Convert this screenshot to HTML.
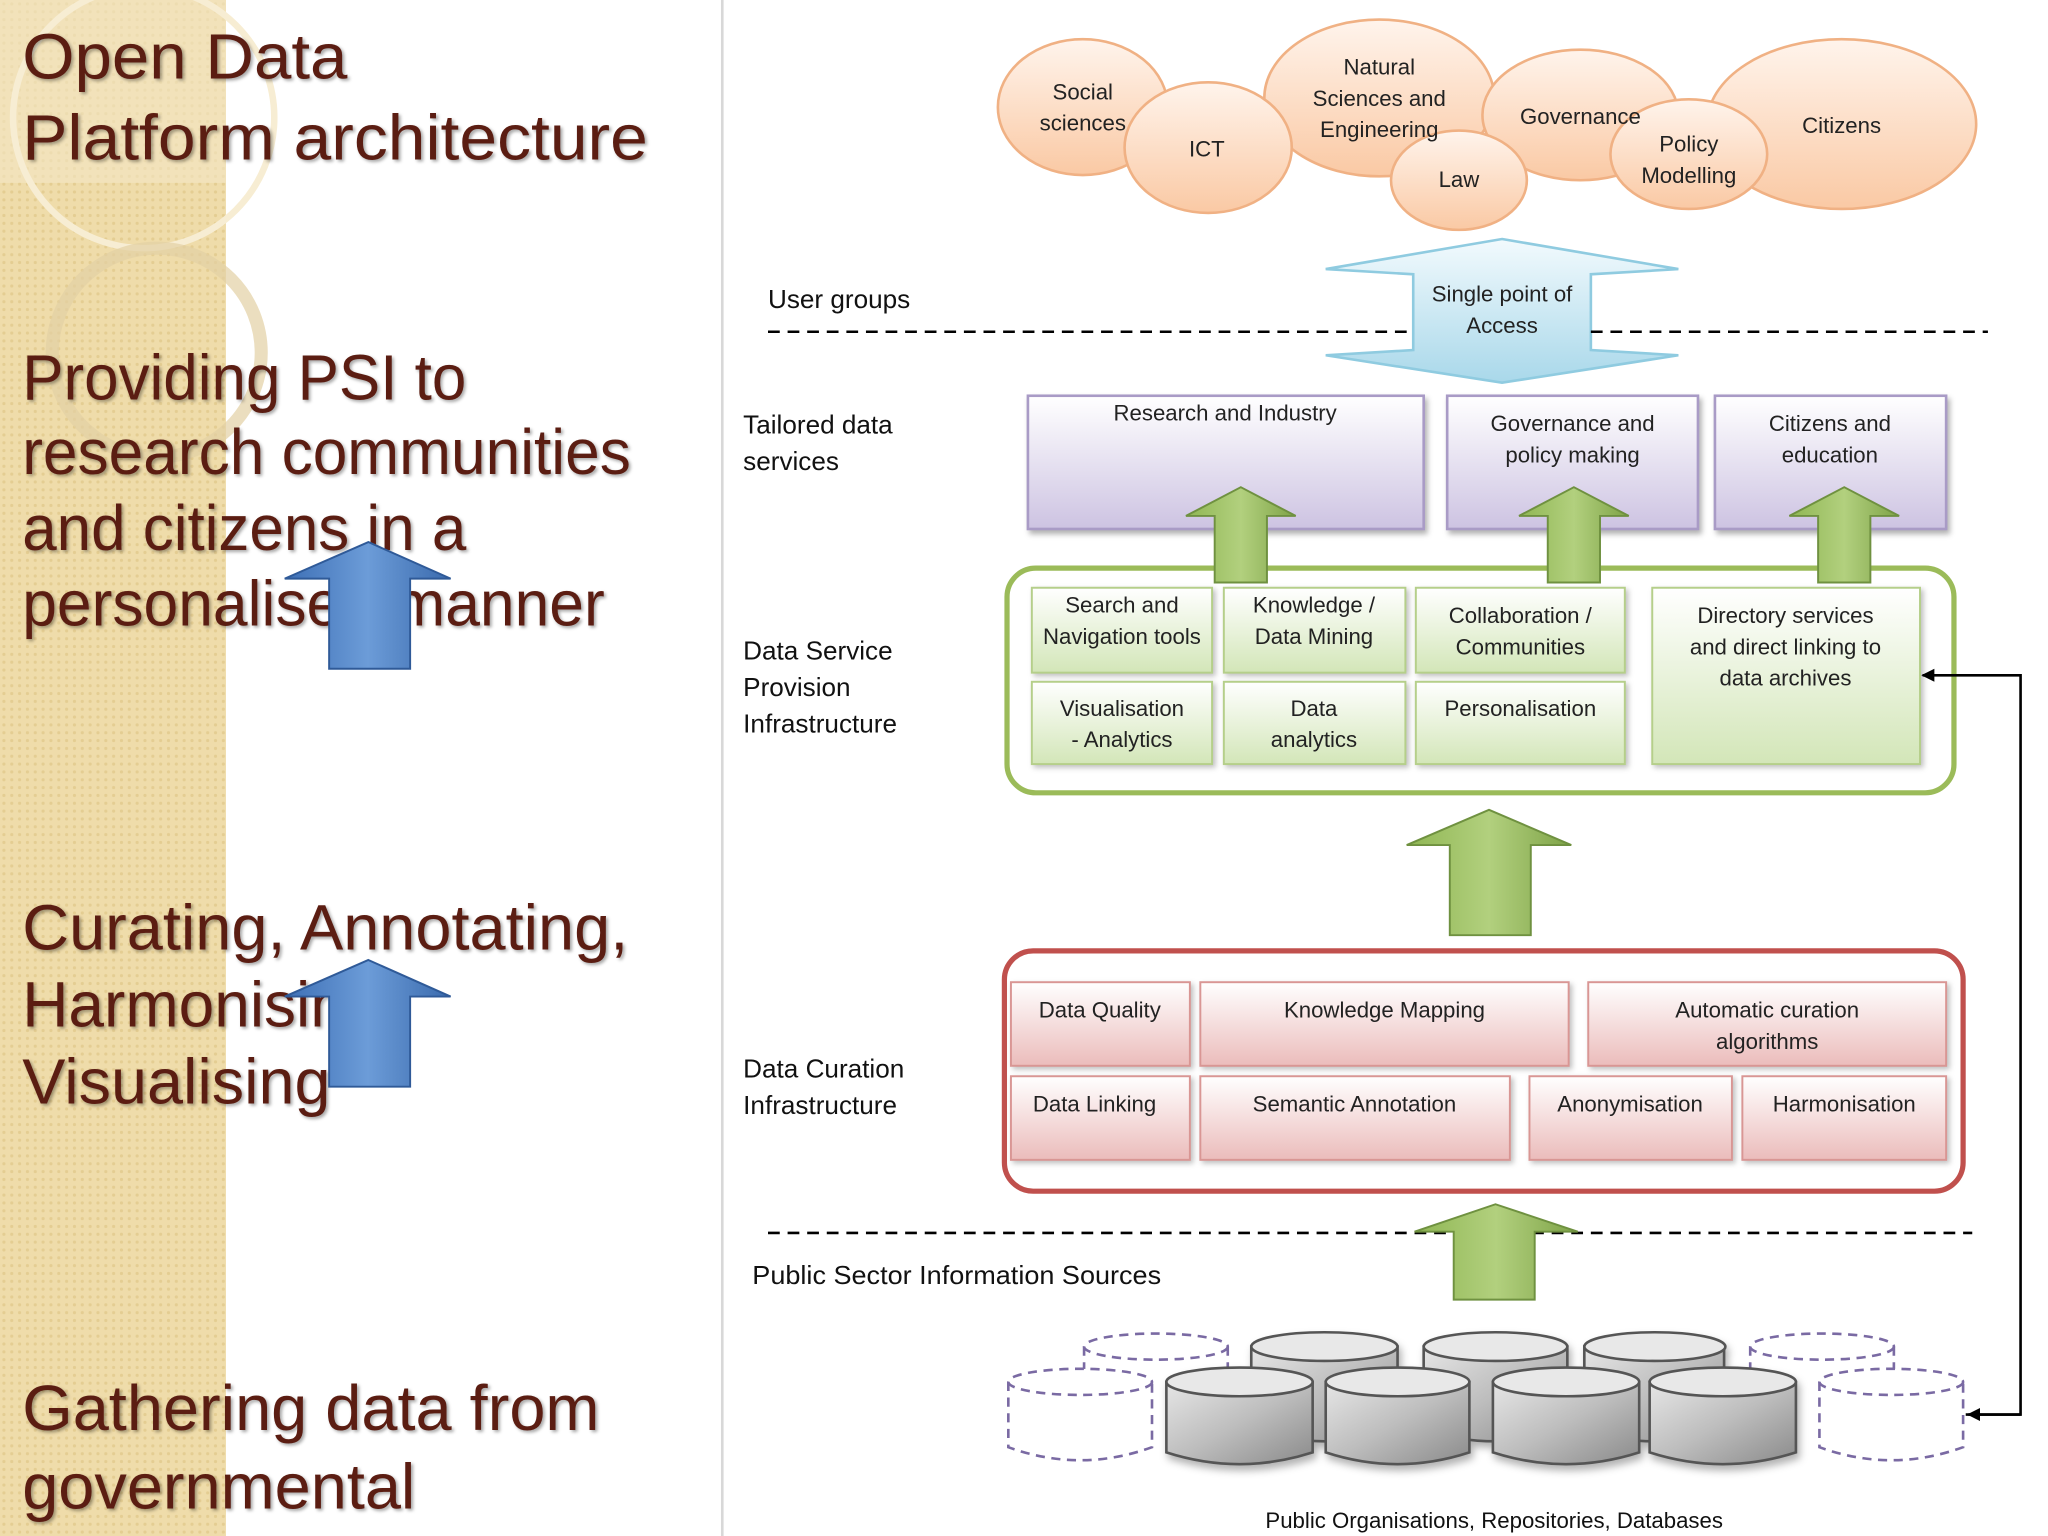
<!DOCTYPE html>
<html><head><meta charset="utf-8"><style>
html,body{margin:0;padding:0;background:#fff;}
svg{display:block;}
</style></head><body>
<svg width="2048" height="1536" viewBox="0 0 1568 1176" xmlns="http://www.w3.org/2000/svg" font-family="Liberation Sans, sans-serif">
<defs>
<linearGradient id="peach" x1="0" y1="0" x2="0" y2="1"><stop offset="0" stop-color="#fff4ec"/><stop offset="1" stop-color="#fac9a4"/></linearGradient>
<linearGradient id="blue" x1="0" y1="0" x2="0" y2="1"><stop offset="0" stop-color="#f2fafd"/><stop offset="1" stop-color="#a9d8ea"/></linearGradient>
<linearGradient id="purp" x1="0" y1="0" x2="0" y2="1"><stop offset="0" stop-color="#ffffff"/><stop offset="1" stop-color="#cdc3e2"/></linearGradient>
<linearGradient id="grn" x1="0" y1="0" x2="0" y2="1"><stop offset="0" stop-color="#ffffff"/><stop offset="1" stop-color="#d3e6b8"/></linearGradient>
<linearGradient id="red" x1="0" y1="0" x2="0" y2="1"><stop offset="0" stop-color="#ffffff"/><stop offset="1" stop-color="#ebbcbb"/></linearGradient>
<linearGradient id="garr" x1="0" y1="0" x2="1" y2="0"><stop offset="0" stop-color="#8fb653"/><stop offset="0.5" stop-color="#b2d07e"/><stop offset="1" stop-color="#7ea347"/></linearGradient>
<linearGradient id="barr" x1="0" y1="0" x2="1" y2="0"><stop offset="0" stop-color="#3d6fb5"/><stop offset="0.5" stop-color="#6c9cd8"/><stop offset="1" stop-color="#3a6aad"/></linearGradient>
<linearGradient id="cyl" x1="0" y1="0" x2="1" y2="1"><stop offset="0" stop-color="#e6e6e6"/><stop offset="0.5" stop-color="#bdbdbd"/><stop offset="1" stop-color="#8a8a8a"/></linearGradient>
<pattern id="dots" width="6" height="6" patternUnits="userSpaceOnUse"><rect width="6" height="6" fill="#efdcaa"/><circle cx="3" cy="3" r="1.2" fill="#e4cd92"/></pattern>
<marker id="ah" markerWidth="10" markerHeight="10" refX="9" refY="5" orient="auto" markerUnits="userSpaceOnUse"><path d="M0,0 L10,5 L0,10 z" fill="#000"/></marker>
</defs>

<rect x="0" y="0" width="173" height="1176" fill="url(#dots)"/>
<rect x="0" y="0" width="173" height="140" fill="#f3e6c4" opacity="0.6"/>
<circle cx="110" cy="90" r="100" fill="none" stroke="#f7edd3" stroke-width="5"/>
<circle cx="120" cy="270" r="80" fill="none" stroke="#e3d0a4" stroke-width="10" opacity="0.7"/>
<line x1="553" y1="0" x2="553" y2="1176" stroke="#d8d8d8" stroke-width="2"/>

<g font-size="49" fill="#5b1d12" style="text-shadow:2px 2px 3px rgba(0,0,0,0.35)" lengthAdjust="spacingAndGlyphs">
<text x="17" y="60" textLength="249" lengthAdjust="spacingAndGlyphs">Open Data</text>
<text x="17" y="122" textLength="479" lengthAdjust="spacingAndGlyphs">Platform architecture</text>
<text x="17" y="306" textLength="340" lengthAdjust="spacingAndGlyphs">Providing PSI to</text>
<text x="17" y="363" textLength="466" lengthAdjust="spacingAndGlyphs">research communities</text>
<text x="17" y="421" textLength="340" lengthAdjust="spacingAndGlyphs">and citizens in a</text>
<text x="17" y="479" textLength="446" lengthAdjust="spacingAndGlyphs">personalised manner</text>
<text x="17" y="727" textLength="464" lengthAdjust="spacingAndGlyphs">Curating, Annotating,</text>
<text x="17" y="786">Harmonising,</text>
<text x="17" y="845" textLength="236" lengthAdjust="spacingAndGlyphs">Visualising</text>
<text x="17" y="1095" textLength="442" lengthAdjust="spacingAndGlyphs">Gathering data from</text>
<text x="17" y="1155" textLength="301" lengthAdjust="spacingAndGlyphs">governmental</text>
</g>
<path d="M282,415 L345,443 L314,443 L314,512 L252,512 L252,443 L218,443 Z" fill="url(#barr)" stroke="#2f5a98" stroke-width="1.5"/>
<path d="M282,735 L345,763 L314,763 L314,832 L252,832 L252,763 L218,763 Z" fill="url(#barr)" stroke="#2f5a98" stroke-width="1.5"/>

<g stroke="#f0b184" stroke-width="2" fill="url(#peach)">
<ellipse cx="829" cy="82" rx="65" ry="52"/>
<ellipse cx="1056" cy="75" rx="88" ry="60"/>
<ellipse cx="925" cy="113" rx="64" ry="50"/>
<ellipse cx="1210" cy="88" rx="75" ry="50"/>
<ellipse cx="1410" cy="95" rx="103" ry="65"/>
<ellipse cx="1117" cy="138" rx="52" ry="38"/>
<ellipse cx="1293" cy="118" rx="60" ry="42"/>
</g>
<g font-size="17" fill="#222" text-anchor="middle">
<text x="829" y="76">Social</text><text x="829" y="100">sciences</text>
<text x="924" y="120">ICT</text>
<text x="1056" y="57">Natural</text><text x="1056" y="81">Sciences and</text><text x="1056" y="105">Engineering</text>
<text x="1210" y="95">Governance</text>
<text x="1410" y="102">Citizens</text>
<text x="1117" y="143">Law</text>
<text x="1293" y="116">Policy</text><text x="1293" y="140">Modelling</text>
</g>

<path d="M1150,183 L1285,206 L1218,210 L1218,268 L1285,272 L1150,293 L1015,272 L1082,268 L1082,210 L1015,206 Z" fill="url(#blue)" stroke="#8fcbe0" stroke-width="2"/>
<g font-size="17" fill="#222" text-anchor="middle"><text x="1150" y="231">Single point of</text><text x="1150" y="255">Access</text></g>

<line x1="588" y1="254" x2="1082" y2="254" stroke="#000" stroke-width="2" stroke-dasharray="9,6"/>
<line x1="1218" y1="254" x2="1522" y2="254" stroke="#000" stroke-width="2" stroke-dasharray="9,6"/>
<line x1="588" y1="944" x2="1510" y2="944" stroke="#000" stroke-width="2" stroke-dasharray="9,6"/>

<g font-size="20" fill="#111">
<text x="588" y="236">User groups</text>
<text x="569" y="332">Tailored data</text><text x="569" y="360">services</text>
<text x="569" y="505">Data Service</text><text x="569" y="533">Provision</text><text x="569" y="561">Infrastructure</text>
<text x="569" y="825">Data Curation</text><text x="569" y="853">Infrastructure</text>
<text x="576" y="983" textLength="313" lengthAdjust="spacingAndGlyphs">Public Sector Information Sources</text>
</g>

<g fill="url(#purp)" stroke="#a99bc6" stroke-width="2" style="filter:drop-shadow(2px 3px 2px rgba(0,0,0,0.3))">
<rect x="787" y="303" width="303" height="102"/>
<rect x="1108" y="303" width="192" height="102"/>
<rect x="1313" y="303" width="177" height="102"/>
</g>
<g font-size="17" fill="#222" text-anchor="middle">
<text x="938" y="322">Research and Industry</text>
<text x="1204" y="330">Governance and</text><text x="1204" y="354">policy making</text>
<text x="1401" y="330">Citizens and</text><text x="1401" y="354">education</text>
</g>

<rect x="771" y="435" width="725" height="172" rx="22" fill="#fff" stroke="#9bbb59" stroke-width="4"/>
<g fill="url(#grn)" stroke="#b5cf8a" stroke-width="1.5" style="filter:drop-shadow(2px 2px 2px rgba(0,0,0,0.25))">
<rect x="790" y="450" width="138" height="65"/>
<rect x="937" y="450" width="139" height="65"/>
<rect x="1084" y="450" width="160" height="65"/>
<rect x="1265" y="450" width="205" height="135"/>
<rect x="790" y="522" width="138" height="63"/>
<rect x="937" y="522" width="139" height="63"/>
<rect x="1084" y="522" width="160" height="63"/>
</g>
<g font-size="17" fill="#222" text-anchor="middle">
<text x="859" y="469">Search and</text><text x="859" y="493">Navigation tools</text>
<text x="1006" y="469">Knowledge /</text><text x="1006" y="493">Data Mining</text>
<text x="1164" y="477">Collaboration /</text><text x="1164" y="501">Communities</text>
<text x="1367" y="477">Directory services</text><text x="1367" y="501">and direct linking to</text><text x="1367" y="525">data archives</text>
<text x="859" y="548">Visualisation</text><text x="859" y="572">- Analytics</text>
<text x="1006" y="548">Data</text><text x="1006" y="572">analytics</text>
<text x="1164" y="548">Personalisation</text>
</g>

<g fill="url(#garr)" stroke="#6f9140" stroke-width="1.5">
<path d="M950,373 L992,395 L970,395 L970,446 L930,446 L930,395 L908,395 Z"/>
<path d="M1205,373 L1247,395 L1225,395 L1225,446 L1185,446 L1185,395 L1163,395 Z"/>
<path d="M1412,373 L1454,395 L1432,395 L1432,446 L1392,446 L1392,395 L1370,395 Z"/>
<path d="M1140,620 L1203,647 L1172,647 L1172,716 L1110,716 L1110,647 L1077,647 Z"/>
<path d="M1145,922 L1208,943 L1175,943 L1175,995 L1113,995 L1113,943 L1083,943 Z"/>
</g>

<rect x="769" y="728" width="734" height="184" rx="22" fill="#fff" stroke="#c0504d" stroke-width="4"/>
<g fill="url(#red)" stroke="#d99694" stroke-width="1.5" style="filter:drop-shadow(2px 2px 2px rgba(0,0,0,0.25))">
<rect x="774" y="752" width="137" height="64"/>
<rect x="919" y="752" width="282" height="64"/>
<rect x="1216" y="752" width="274" height="64"/>
<rect x="774" y="824" width="137" height="64"/>
<rect x="919" y="824" width="237" height="64"/>
<rect x="1171" y="824" width="155" height="64"/>
<rect x="1334" y="824" width="156" height="64"/>
</g>
<g font-size="17" fill="#222" text-anchor="middle">
<text x="842" y="779">Data Quality</text>
<text x="1060" y="779">Knowledge Mapping</text>
<text x="1353" y="779">Automatic curation</text><text x="1353" y="803">algorithms</text>
<text x="838" y="851">Data Linking</text>
<text x="1037" y="851">Semantic Annotation</text>
<text x="1248" y="851">Anonymisation</text>
<text x="1412" y="851">Harmonisation</text>
</g>

<polyline points="1505,1083 1547,1083 1547,517 1472,517" fill="none" stroke="#000" stroke-width="2" marker-end="url(#ah)"/>
<line x1="1547" y1="1083" x2="1507" y2="1083" stroke="#000" stroke-width="2" marker-end="url(#ah)"/>

<g fill="none" stroke="#7a6aa3" stroke-width="2" stroke-dasharray="7,5">
<path d="M830,1031 L830,1095 M940,1031 L940,1095"/><ellipse cx="885" cy="1031" rx="55" ry="10"/>
<path d="M1340,1031 L1340,1095 M1450,1031 L1450,1095"/><ellipse cx="1395" cy="1031" rx="55" ry="10"/>
</g>
<g stroke="#7a6aa3" stroke-width="2" stroke-dasharray="7,5">
<path d="M772,1058 L772,1108 Q827,1128 882,1108 L882,1058 Z" fill="#fff"/><ellipse cx="827" cy="1058" rx="55" ry="10" fill="#fff"/>
<path d="M1393,1058 L1393,1108 Q1448,1128 1503,1108 L1503,1058 Z" fill="#fff"/><ellipse cx="1448" cy="1058" rx="55" ry="10" fill="#fff"/>
</g>
<g stroke="#555" stroke-width="2" style="filter:drop-shadow(2px 4px 3px rgba(0,0,0,0.3))">
<path d="M958,1031 L958,1095 Q1014,1112 1070,1095 L1070,1031 Z" fill="url(#cyl)"/><ellipse cx="1014" cy="1031" rx="56" ry="11" fill="#e8e8e8"/>
<path d="M1090,1031 L1090,1095 Q1145,1112 1200,1095 L1200,1031 Z" fill="url(#cyl)"/><ellipse cx="1145" cy="1031" rx="55" ry="11" fill="#e8e8e8"/>
<path d="M1213,1031 L1213,1095 Q1267,1112 1320,1095 L1320,1031 Z" fill="url(#cyl)"/><ellipse cx="1267" cy="1031" rx="54" ry="11" fill="#e8e8e8"/>
<path d="M893,1058 L893,1112 Q949,1130 1005,1112 L1005,1058 Z" fill="url(#cyl)"/><ellipse cx="949" cy="1058" rx="56" ry="11" fill="#e8e8e8"/>
<path d="M1015,1058 L1015,1112 Q1070,1130 1125,1112 L1125,1058 Z" fill="url(#cyl)"/><ellipse cx="1070" cy="1058" rx="55" ry="11" fill="#e8e8e8"/>
<path d="M1143,1058 L1143,1112 Q1199,1130 1255,1112 L1255,1058 Z" fill="url(#cyl)"/><ellipse cx="1199" cy="1058" rx="56" ry="11" fill="#e8e8e8"/>
<path d="M1263,1058 L1263,1112 Q1319,1130 1375,1112 L1375,1058 Z" fill="url(#cyl)"/><ellipse cx="1319" cy="1058" rx="56" ry="11" fill="#e8e8e8"/>
</g>
<text x="1144" y="1170" font-size="17" fill="#111" text-anchor="middle">Public Organisations, Repositories, Databases</text>
</svg>
</body></html>
